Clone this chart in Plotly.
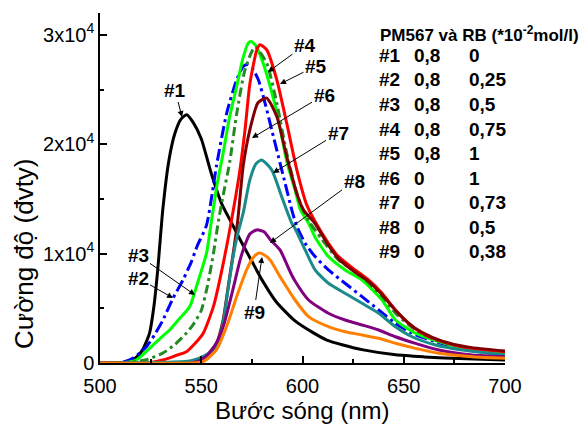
import plotly.graph_objects as go

# ---------------- data ----------------
wl1 = [500, 508, 512, 516, 519, 521, 523, 524.5, 526.5, 528.5, 531, 534, 537, 540, 542.8, 546, 550, 555, 560, 565, 570, 575, 580, 587, 596, 605, 612, 620, 630, 646, 660, 670, 685, 700]
I1 = [0, 20, 80, 280, 700, 1200, 2000, 2750, 5000, 8500, 14000, 18500, 21000, 22300, 22700, 22000, 20500, 17300, 14600, 12800, 11000, 9300, 7600, 5600, 3900, 2800, 2100, 1650, 1200, 750, 560, 460, 360, 270]

wl2 = [500, 510, 515, 519.6, 523, 527, 531, 536, 541, 545, 548, 552.6, 557.5, 562.5, 567.5, 570.7, 572.5, 575, 578.2, 581.5, 584.8, 588.1, 591.4, 594.7, 597.2, 601.3, 606.2, 612.8, 621, 629.4, 637.6, 645.9, 654.1, 665.7, 678.9, 700]
I2 = [0, 30, 300, 900, 1500, 2600, 3900, 5900, 7600, 9200, 10700, 12600, 18000, 22800, 25900, 27100, 27300, 27000, 25900, 23760, 21320, 18880, 16440, 14000, 12500, 10950, 9730, 8510, 7290, 6070, 4850, 3630, 2720, 1950, 1340, 730]

wl3 = [500, 512, 517.9, 524.5, 530, 534.4, 539, 544.3, 547.6, 552.6, 555.1, 558, 560.8, 564, 567.5, 570.5, 573.2, 574.5, 577, 580.5, 584, 587.4, 592.4, 596.3, 599, 603, 606.2, 612.8, 621, 629.4, 639.3, 645.9, 655.8, 667.3, 683.8, 700]
I3 = [0, 40, 275, 1340, 2300, 3020, 4000, 5150, 6980, 10040, 13080, 16500, 19190, 22500, 25280, 27800, 29250, 29400, 29000, 27450, 25300, 22870, 18300, 15830, 14000, 12780, 11500, 9730, 8510, 7590, 5760, 3930, 2720, 1950, 1190, 890]

wl4 = [500, 515, 523, 531, 537, 542, 546, 550, 553, 556, 558.5, 561, 564, 567.5, 571.6, 576.5, 582.3, 587.3, 592.2, 597.2, 600.4, 603, 609.6, 617.8, 629.4, 639.3, 645.9, 655.8, 665.7, 678.9, 700]
I4 = [0, 80, 300, 900, 1700, 2600, 3500, 4800, 7000, 10000, 13000, 15500, 18300, 22800, 26800, 28900, 27420, 23760, 19190, 15500, 14000, 13000, 11300, 9420, 7900, 6070, 4550, 3020, 2100, 1490, 1030]

wl5 = [500, 525, 531, 537, 542.7, 547, 551, 556, 559.5, 564.5, 569, 571.6, 574, 577.4, 579, 582.3, 587.3, 592.2, 597.2, 602, 606, 612.8, 617.8, 626, 632.6, 639.3, 645.9, 652.5, 659.1, 669, 682.2, 700]
I5 = [0, 50, 275, 650, 1030, 1800, 2720, 5150, 7900, 12600, 17500, 21300, 25500, 28600, 29100, 28640, 25900, 21930, 17660, 14500, 13000, 10950, 9730, 8510, 7590, 6380, 4850, 3630, 2720, 1950, 1340, 1030]

wl6 = [500, 539, 550.9, 557.5, 560.8, 563.3, 565.8, 568, 570.7, 574, 578, 582.3, 587.3, 592.2, 597.2, 600.4, 606, 613, 618, 626, 633, 639, 646, 652, 659, 669, 682, 700]
I6 = [0, 0, 430, 1800, 3930, 6980, 10040, 13000, 18000, 21320, 23790, 24220, 22530, 18880, 15500, 14000, 12800, 10700, 9500, 8300, 7400, 6300, 4800, 3700, 2800, 2000, 1450, 1100]

wl7 = [500, 545, 552, 557.5, 560.8, 563.3, 565.8, 568, 570.7, 574, 577, 579.8, 584.8, 589.7, 594.7, 596.3, 601.3, 606.2, 612.8, 621, 629.4, 637.6, 645.9, 654.1, 665.7, 678.9, 700]
I7 = [0, 200, 700, 1500, 3700, 6800, 9800, 11800, 13700, 16740, 18200, 18570, 17660, 15210, 12780, 12300, 10340, 8510, 7290, 6380, 5460, 4550, 3320, 2400, 1650, 1190, 730]

wl8 = [500, 545, 550, 554, 558, 561, 564, 566, 569, 571, 574, 577.4, 581, 584, 588.9, 594, 596.3, 603, 612.8, 621, 629.4, 637.6, 645.9, 655.8, 667.3, 683.8, 700]
I8 = [0, 0, 300, 900, 2000, 3400, 5500, 7000, 9300, 10500, 11800, 12170, 12000, 11300, 10340, 8300, 7500, 5760, 4550, 3930, 3480, 3020, 2400, 1800, 1190, 730, 580]

wl9 = [500, 545, 550.9, 557.5, 562.5, 567.5, 572.4, 575.5, 578.2, 581, 584, 588.9, 592, 596.3, 603, 612.8, 621, 629.4, 637.6, 645.9, 655.8, 667.3, 683.8, 700]
I9 = [0, 0, 120, 1190, 3320, 6070, 8510, 9600, 10040, 9900, 9420, 7900, 7000, 5760, 4240, 3320, 2860, 2560, 2260, 1800, 1340, 890, 580, 430]

labels = ["#1", "#2", "#3", "#4", "#5", "#6", "#7", "#8", "#9"]
pm567 = ["0,8", "0,8", "0,8", "0,8", "0,8", "0", "0", "0", "0"]
rb = ["0", "0,25", "0,5", "0,75", "1", "1", "0,73", "0,5", "0,38"]
table_header = "PM567 và RB (*10<sup>-2</sup>mol/l)"

x_tickvals = [500, 550, 600, 650, 700]
y_tickvals = [0, 10000, 20000, 30000]
y_ticktext = ["0", "1x10<sup>4</sup>", "2x10<sup>4</sup>", "3x10<sup>4</sup>"]
x_title = "Bước sóng (nm)"
y_title = "Cường độ (đvty)"

# ---------------- styles ----------------
series = [
    (wl1, I1, "#000000", "solid"),
    (wl2, I2, "#0000FF", "12px,4px,3px,4px"),
    (wl3, I3, "#00FF00", "solid"),
    (wl4, I4, "#228B22", "9px,4px,3px,4px"),
    (wl5, I5, "#FF0000", "solid"),
    (wl6, I6, "#800000", "solid"),
    (wl7, I7, "#1A8A8A", "solid"),
    (wl8, I8, "#800080", "solid"),
    (wl9, I9, "#FF8000", "solid"),
]

W, H = 585, 425
ML, MR, MT, MB = 100, 80, 13, 62
PW, PH = W - ML - MR, H - MT - MB
XR = [500, 700]
YR = [0, 32000]
FONT = "Liberation Sans, Arial, sans-serif"


def px2x(px):
    return XR[0] + (px - ML) / PW * (XR[1] - XR[0])


def py2y(py):
    return YR[0] + (MT + PH - py) / PH * (YR[1] - YR[0])


def ppx(px):
    return (px - ML) / PW


def ppy(py):
    return (MT + PH - py) / PH


fig = go.Figure()
for wl, I, col, dash in series:
    fig.add_trace(go.Scatter(x=wl, y=I, mode="lines",
                             line=dict(color=col, width=3, dash=dash, shape="spline", smoothing=0.6),
                             showlegend=False, hoverinfo="skip"))

annotations = []
# curve labels with arrows: (label, text center px, arrow tip px)
label_pos = [
    ("#1", (175, 90), (182, 117)),
    ("#2", (138, 278), (173, 298)),
    ("#3", (138, 255), (195, 295)),
    ("#4", (305, 45), (268, 72)),
    ("#5", (316, 66), (280, 84)),
    ("#6", (324, 95), (252, 138)),
    ("#7", (338, 133), (273, 173)),
    ("#8", (354, 181), (270, 243)),
    ("#9", (254, 312), (262, 257)),
]
for lab, tc, tip in label_pos:
    annotations.append(dict(x=px2x(tip[0]), y=py2y(tip[1]), xref="x", yref="y",
                            ax=px2x(tc[0]), ay=py2y(tc[1]), axref="x", ayref="y",
                            text="<b>" + lab + "</b>", showarrow=True, arrowhead=2, arrowsize=1.2,
                            arrowwidth=1, arrowcolor="black",
                            font=dict(family=FONT, size=19, color="black")))

# table
row0 = 55.5
step = 24.5
annotations.append(dict(x=ppx(378), y=ppy(34), xref="paper", yref="paper", text="<b>" + table_header + "</b>",
                        showarrow=False, xanchor="left", yanchor="middle",
                        font=dict(family=FONT, size=17, color="black")))
for i in range(len(labels)):
    yy = ppy(row0 + i * step)
    for txt, cx in ((labels[i], 377), (pm567[i], 412), (rb[i], 467)):
        annotations.append(dict(x=ppx(cx), y=yy, xref="paper", yref="paper", text="<b>" + txt + "</b>",
                                showarrow=False, xanchor="left", yanchor="middle",
                                font=dict(family=FONT, size=19, color="black")))

# axis titles
annotations.append(dict(x=ppx(302), y=ppy(410), xref="paper", yref="paper", text=x_title,
                        showarrow=False, xanchor="center", yanchor="middle",
                        font=dict(family=FONT, size=24, color="black")))
annotations.append(dict(x=ppx(24), y=ppy(254), xref="paper", yref="paper", text=y_title,
                        showarrow=False, xanchor="center", yanchor="middle", textangle=-90,
                        font=dict(family=FONT, size=26, color="black")))

fig.update_layout(
    width=W, height=H,
    margin=dict(l=ML, r=MR, t=MT, b=MB, pad=0),
    paper_bgcolor="white", plot_bgcolor="white",
    annotations=annotations,
    xaxis=dict(range=XR, tickvals=x_tickvals, ticks="inside", ticklen=7, tickwidth=1.5,
               tickcolor="black", showline=True, linecolor="black", linewidth=1.5,
               showgrid=False, zeroline=False, ticklabelstandoff=4,
               tickfont=dict(family=FONT, size=20, color="black"),
               minor=dict(dtick=25, ticks="inside", ticklen=4, tickwidth=1.5, tickcolor="black", showgrid=False)),
    yaxis=dict(range=YR, tickvals=y_tickvals, ticktext=y_ticktext, ticks="inside", ticklen=7,
               tickwidth=1.5, tickcolor="black", showline=True, linecolor="black", linewidth=1.5,
               showgrid=False, zeroline=False,
               tickfont=dict(family=FONT, size=20, color="black"),
               minor=dict(tickvals=[5000, 15000, 25000], ticks="inside", ticklen=4, tickwidth=1.5,
                          tickcolor="black", showgrid=False)),
)

fig.write_html("out.html")
